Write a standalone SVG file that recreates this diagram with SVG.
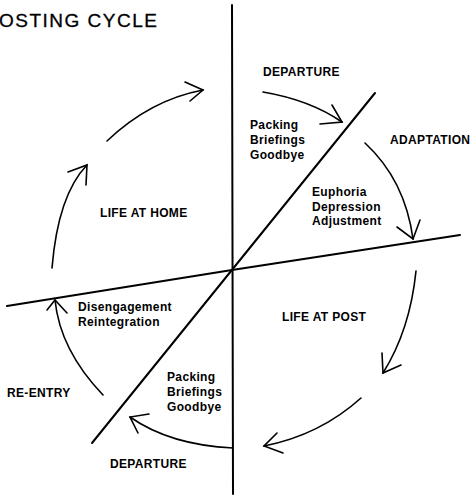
<svg xmlns="http://www.w3.org/2000/svg" width="474" height="497" viewBox="0 0 474 497">
<style>
.ax{fill:none;stroke:#000;stroke-width:2;stroke-linecap:round}
.ar{fill:none;stroke:#000;stroke-width:1.6;stroke-linecap:round;stroke-linejoin:miter}
.t{font-family:"Liberation Sans",Arial,sans-serif;font-weight:bold;font-size:12px;letter-spacing:0.35px;fill:#000}
.title{font-family:"Liberation Sans",Arial,sans-serif;font-size:19px;fill:#000;letter-spacing:1.5px;stroke:#000;stroke-width:0.3px}
</style>
<rect width="474" height="497" fill="#fff"/>
<text class="title" x="-1" y="27">OSTING CYCLE</text>
<g id="axes">
<path class="ax" d="M232,5 L233,494"/>
<path class="ax" d="M7,306 L232,270 L460,235"/>
<path class="ax" d="M375,93 L92,443"/>
</g>
<g id="connectors">
<path class="ar" d="M107,141 Q150,100 203,90"/><path class="ar" d="M185,82 L203,90 L190,101"/>
<path class="ar" d="M52,268 Q58,195 87,165"/><path class="ar" d="M68,172 L87,165 L86,185"/>
<path class="ar" d="M263,92 Q310,100 342,122"/><path class="ar" d="M332,105 L342,122 L320,124"/>
<path class="ar" d="M365,143 Q405,180 413,239"/><path class="ar" d="M397,227 L413,239 L420,220"/>
<path class="ar" d="M416,271 Q410,330 383,373"/><path class="ar" d="M382,353 L383,373 L401,365"/>
<path class="ar" d="M361,398 Q320,435 264,446"/><path class="ar" d="M277,433 L264,446 L283,453"/>
<path class="ar" d="M233,448 Q170,445 130,417"/><path class="ar" d="M149,414 L130,417 L138,433"/>
<path class="ar" d="M103,395 Q60,350 55,300"/><path class="ar" d="M47,310 L55,300 L67,313"/>
</g>
<g id="departure-top"><text class="t" x="263" y="76">DEPARTURE</text>
<text class="t" x="250" y="129">Packing</text><text class="t" x="250" y="144">Briefings</text><text class="t" x="250" y="159">Goodbye</text></g>
<g id="adaptation"><text class="t" x="390" y="144">ADAPTATION</text>
<text class="t" x="312" y="196">Euphoria</text><text class="t" x="312" y="211">Depression</text><text class="t" x="312" y="225">Adjustment</text></g>
<g id="life-at-home"><text class="t" x="100" y="217">LIFE AT HOME</text></g>
<g id="life-at-post"><text class="t" x="282" y="321">LIFE AT POST</text></g>
<g id="reentry"><text class="t" x="7" y="397">RE-ENTRY</text>
<text class="t" x="78" y="311">Disengagement</text><text class="t" x="78" y="326">Reintegration</text></g>
<g id="departure-bottom"><text class="t" x="110" y="468">DEPARTURE</text>
<text class="t" x="167" y="381">Packing</text><text class="t" x="167" y="396">Briefings</text><text class="t" x="167" y="411">Goodbye</text></g>
</svg>
